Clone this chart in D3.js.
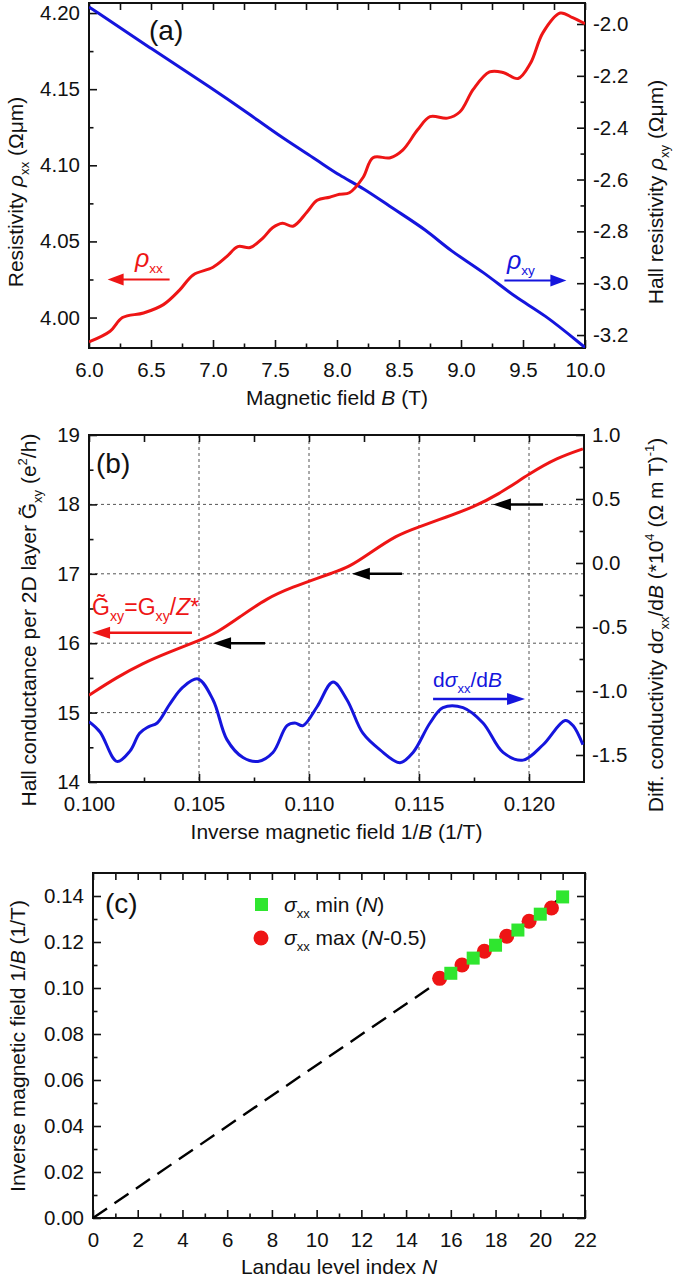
<html>
<head>
<script src="https://d3js.org/d3.v7.min.js"></script>
<style>
  body { margin: 0; background: #fff; }
  text { font-family: "Liberation Sans", Arial, sans-serif; fill: #111; }
</style>
</head>
<body>
<div id="chart"></div>
<script>
// ---------- data ----------
// (a) resistivity vs magnetic field
var aTicksX = [6.0, 6.5, 7.0, 7.5, 8.0, 8.5, 9.0, 9.5, 10.0];
var aTicksL = [4.00, 4.05, 4.10, 4.15, 4.20];
var aTicksR = [-3.2, -3.0, -2.8, -2.6, -2.4, -2.2, -2.0];
var xxB   = [6.0, 6.17, 6.27, 6.44, 6.6, 6.73, 6.84, 7.0, 7.11, 7.2, 7.3, 7.4, 7.48, 7.56, 7.645, 7.76, 7.84, 7.94, 8.02, 8.10, 8.21, 8.29, 8.43, 8.53, 8.65, 8.75, 8.89, 8.99, 9.10, 9.23, 9.34, 9.46, 9.56, 9.66, 9.80, 9.90, 10.0];
var rhoXX = [3.984, 3.991, 4.000, 4.003, 4.0085, 4.018, 4.028, 4.033, 4.040, 4.0466, 4.046, 4.052, 4.059, 4.062, 4.060, 4.0695, 4.077, 4.079, 4.081, 4.082, 4.092, 4.105, 4.105, 4.110, 4.1233, 4.132, 4.131, 4.135, 4.150, 4.1613, 4.161, 4.157, 4.167, 4.187, 4.200, 4.197, 4.193];
var xyB   = [6.0, 6.5, 7.0, 7.3, 7.56, 7.84, 8.02, 8.21, 8.45, 8.73, 8.91, 9.18, 9.45, 9.66, 10.0];
var rhoXY = [-1.934, -2.095, -2.250, -2.350, -2.440, -2.525, -2.585, -2.632, -2.712, -2.797, -2.875, -2.955, -3.060, -3.115, -3.248];

// (b) Hall conductance and d sigma / dB vs inverse field
var bTicksX = [0.100, 0.105, 0.110, 0.115, 0.120];
var bTicksL = [14, 15, 16, 17, 18, 19];
var bTicksR = [-1.5, -1.0, -0.5, 0.0, 0.5, 1.0];
var gInvB = [0.1, 0.10127, 0.10245, 0.10355, 0.10495, 0.10582, 0.10686, 0.10809, 0.10927, 0.1105, 0.11095, 0.11186, 0.11277, 0.114, 0.11495, 0.11627, 0.11745, 0.11855, 0.12005, 0.12127, 0.12245];
var gXY   = [15.25, 15.51, 15.71, 15.86, 16.03, 16.15, 16.38, 16.65, 16.81, 16.95, 17.0, 17.1, 17.3, 17.56, 17.67, 17.82, 17.96, 18.13, 18.45, 18.67, 18.8];
var dInvB = [0.1, 0.1005, 0.10127, 0.10186, 0.1023, 0.1027, 0.1031, 0.10368, 0.10427, 0.10495, 0.10564, 0.10627, 0.107, 0.10768, 0.10836, 0.109, 0.10936, 0.10973, 0.11036, 0.11109, 0.11173, 0.11245, 0.11323, 0.11414, 0.11473, 0.1155, 0.11609, 0.117, 0.11791, 0.11882, 0.11973, 0.12064, 0.12164, 0.122, 0.12245];
var dSdB  = [-1.24, -1.32, -1.55, -1.47, -1.33, -1.28, -1.25, -1.10, -0.97, -0.906, -1.07, -1.38, -1.52, -1.55, -1.48, -1.27, -1.25, -1.27, -1.125, -0.93, -1.07, -1.33, -1.46, -1.56, -1.48, -1.25, -1.13, -1.13, -1.25, -1.48, -1.54, -1.42, -1.23, -1.27, -1.42];
var bArrowsTail = [0.1080, 0.11423, 0.12064];
var bArrowsTip  = [0.10564, 0.11195, 0.11836];
var bArrowsG    = [16, 17, 18];

// (c) Landau fan
var cTicksX = [0, 2, 4, 6, 8, 10, 12, 14, 16, 18, 20, 22];
var cTicksY = [0.00, 0.02, 0.04, 0.06, 0.08, 0.10, 0.12, 0.14];
var minN    = [16, 17, 18, 19, 20, 21];
var minInvB = [0.1064, 0.1130, 0.1186, 0.1252, 0.1321, 0.1396];
var maxN    = [15.5, 16.5, 17.5, 18.5, 19.5, 20.5];
var maxInvB = [0.1042, 0.1100, 0.1160, 0.1225, 0.1290, 0.1348];
var fitN    = [0, 21];
var fitInvB = [0, 0.1396];

var RED = "#ee1515", BLUE = "#1515dd", GREEN = "#2fe62f";
var TICK_FS = 20.5, TITLE_FS = 21;

var svg = d3.select("#chart").append("svg").attr("width", 675).attr("height", 1277);

function mids(a) {
  var out = [];
  for (var i = 0; i < a.length - 1; i++) out.push((a[i] + a[i + 1]) / 2);
  return out;
}
function zip(xs, ys) { return xs.map(function (d, i) { return [d, ys[i]]; }); }

// inward major + minor ticks, labels optional
function axes(g, x, y, y2, o) {
  var box = { l: x.range()[0], r: x.range()[1], t: y.range()[1], b: y.range()[0] };
  var majX = o.tx, minX = o.mx || mids(o.tx);
  g.append("g").attr("transform", "translate(0," + box.b + ")")
    .call(d3.axisBottom(x).tickValues(majX).tickSizeInner(-8).tickSizeOuter(0).tickPadding(14).tickFormat(o.fx));
  g.append("g").attr("transform", "translate(0," + box.b + ")")
    .call(d3.axisBottom(x).tickValues(minX).tickSize(-4.5).tickFormat(""));
  g.append("g").attr("transform", "translate(0," + box.t + ")")
    .call(d3.axisTop(x).tickValues(majX.concat(minX)).tickSize(-7).tickFormat(""));
  g.append("g").attr("transform", "translate(" + box.l + ",0)")
    .call(d3.axisLeft(y).tickValues(o.ty).tickSizeInner(-8).tickSizeOuter(0).tickPadding(9).tickFormat(o.fy));
  g.append("g").attr("transform", "translate(" + box.l + ",0)")
    .call(d3.axisLeft(y).tickValues(o.my || mids(o.ty)).tickSize(-4.5).tickFormat(""));
  var ry = y2 || y;
  g.append("g").attr("transform", "translate(" + box.r + ",0)")
    .call(d3.axisRight(ry).tickValues(o.ty2 || o.ty).tickSizeInner(-8).tickSizeOuter(0).tickPadding(8).tickFormat(o.fy2 || ""));
  g.append("g").attr("transform", "translate(" + box.r + ",0)")
    .call(d3.axisRight(ry).tickValues(o.my2 || mids(o.ty2 || o.ty)).tickSize(-4.5).tickFormat(""));
  g.selectAll(".domain").remove();
  g.selectAll(".tick line").attr("stroke", "#111").attr("stroke-width", 1.6);
  g.selectAll(".tick text").attr("font-size", TICK_FS).attr("fill", "#111")
    .attr("font-family", '"Liberation Sans", Arial, sans-serif');
  g.append("rect").attr("x", box.l).attr("y", box.t)
    .attr("width", box.r - box.l).attr("height", box.b - box.t)
    .attr("fill", "none").attr("stroke", "#111").attr("stroke-width", 2);
  return box;
}

// text built of parts: {t, sub, sup, it, size}
function rich(sel, parts, size) {
  parts.forEach(function (p) {
    var ts = sel.append("tspan").text(p.t);
    if (p.sub) ts.attr("font-size", size * 0.62).attr("baseline-shift", -size * 0.28);
    else if (p.sup) ts.attr("font-size", size * 0.62).attr("baseline-shift", size * 0.42);
    else if (p.size) ts.attr("font-size", p.size);
    if (p.it) ts.attr("font-style", "italic");
  });
  return sel;
}
function vtitle(g, x, y, parts, size, color) {
  var t = g.append("text").attr("transform", "translate(" + x + "," + y + ") rotate(-90)")
    .attr("text-anchor", "middle").attr("font-size", size);
  if (color) t.style("fill", color);
  return rich(t, parts, size);
}
function htitle(g, x, y, parts, size, anchor, color) {
  var t = g.append("text").attr("x", x).attr("y", y)
    .attr("text-anchor", anchor || "middle").attr("font-size", size);
  if (color) t.style("fill", color);
  return rich(t, parts, size);
}
function arrow(g, x1, x2, y, color, w, head, hw) {
  var dir = x2 > x1 ? 1 : -1;
  g.append("line").attr("x1", x1).attr("x2", x2 - dir * head * 0.8).attr("y1", y).attr("y2", y)
    .attr("stroke", color).attr("stroke-width", w);
  g.append("path").attr("d", "M" + x2 + "," + y + "L" + (x2 - dir * head) + "," + (y - hw) +
    "L" + (x2 - dir * head) + "," + (y + hw) + "Z").attr("fill", color);
}

// ---------- panel (a) ----------
var xa = d3.scaleLinear().domain([6, 10]).range([89, 585]);
var ya = d3.scaleLinear().domain([3.980, 4.2066]).range([348, 3]);
var ya2 = d3.scaleLinear().domain([-3.25, -1.919]).range([348, 3]);
var ga = svg.append("g");
svg.append("clipPath").attr("id", "clipA").append("rect").attr("x", 89).attr("y", 3).attr("width", 496).attr("height", 345);
var boxA = axes(ga, xa, ya, ya2, {
  tx: aTicksX, fx: function (d) { return d.toFixed(1); },
  ty: aTicksL, fy: function (d) { return d.toFixed(2); },
  my: mids(aTicksL),
  ty2: aTicksR, fy2: function (d) { return d.toFixed(1); },
  my2: [-3.1, -2.9, -2.7, -2.5, -2.3, -2.1]
});
var lineA = d3.line().x(function (d) { return xa(d[0]); }).y(function (d) { return ya(d[1]); }).curve(d3.curveCatmullRom.alpha(0.5));
var lineA2 = d3.line().x(function (d) { return xa(d[0]); }).y(function (d) { return ya2(d[1]); }).curve(d3.curveBasis);
ga.append("path").attr("d", lineA2(zip(xyB, rhoXY))).attr("clip-path", "url(#clipA)")
  .attr("fill", "none").attr("stroke", BLUE).attr("stroke-width", 3);
ga.append("path").attr("d", lineA(zip(xxB, rhoXX))).attr("clip-path", "url(#clipA)")
  .attr("fill", "none").attr("stroke", RED).attr("stroke-width", 3);
arrow(ga, xa(6.65), xa(6.15), ya(4.025), RED, 2, 16, 6);
arrow(ga, xa(9.35), xa(9.85), ya2(-2.99), BLUE, 2, 16, 6);
htitle(ga, xa(6.37), ya(4.025) - 12, [{ t: "ρ", it: true, size: 25 }, { t: "xx", sub: true }], 22, "start", RED);
htitle(ga, xa(9.37), ya2(-2.99) - 12, [{ t: "ρ", it: true, size: 25 }, { t: "xy", sub: true }], 22, "start", BLUE);
htitle(ga, 149, 40, [{ t: "(a)" }], 28, "start");
htitle(ga, (boxA.l + boxA.r) / 2, 405, [{ t: "Magnetic field " }, { t: "B", it: true }, { t: " (T)" }], TITLE_FS);
vtitle(ga, 23, 192, [{ t: "Resistivity " }, { t: "ρ", it: true }, { t: "xx", sub: true }, { t: " (Ωμm)" }], TITLE_FS);
vtitle(ga, 663, 192, [{ t: "Hall resistivity " }, { t: "ρ", it: true }, { t: "xy", sub: true }, { t: " (Ωμm)" }], TITLE_FS);

// ---------- panel (b) ----------
var xb = d3.scaleLinear().domain([0.1, 0.1225]).range([89, 584]);
var yb = d3.scaleLinear().domain([14, 19]).range([782, 435]);
var yb2 = d3.scaleLinear().domain([-1.711, 1.0]).range([782, 435]);
var gb = svg.append("g");
svg.append("clipPath").attr("id", "clipB").append("rect").attr("x", 89).attr("y", 435).attr("width", 495).attr("height", 347);
// dashed grid
gb.selectAll("line.gx").data(bTicksX.slice(1)).enter().append("line")
  .attr("x1", function (d) { return xb(d); }).attr("x2", function (d) { return xb(d); })
  .attr("y1", 435).attr("y2", 782).attr("stroke", "#555").attr("stroke-width", 1).attr("stroke-dasharray", "3,3");
gb.selectAll("line.gy").data(bTicksL.slice(1, -1)).enter().append("line")
  .attr("y1", function (d) { return yb(d); }).attr("y2", function (d) { return yb(d); })
  .attr("x1", 89).attr("x2", 584).attr("stroke", "#555").attr("stroke-width", 1).attr("stroke-dasharray", "3,3");
var boxB = axes(gb, xb, yb, yb2, {
  tx: bTicksX, fx: function (d) { return d.toFixed(3); },
  mx: [0.1025, 0.1075, 0.1125, 0.1175, 0.1225].filter(function (d) { return d < 0.1225; }),
  ty: bTicksL, fy: function (d) { return d; },
  ty2: bTicksR, fy2: function (d) { return d.toFixed(1); },
  my2: [-1.25, -0.75, -0.25, 0.25, 0.75]
});
var lineB = d3.line().x(function (d) { return xb(d[0]); }).y(function (d) { return yb(d[1]); }).curve(d3.curveBasis);
var lineB2 = d3.line().x(function (d) { return xb(d[0]); }).y(function (d) { return yb2(d[1]); }).curve(d3.curveCatmullRom.alpha(0.5));
gb.append("path").attr("d", lineB2(zip(dInvB, dSdB))).attr("clip-path", "url(#clipB)")
  .attr("fill", "none").attr("stroke", BLUE).attr("stroke-width", 3);
gb.append("path").attr("d", lineB(zip(gInvB, gXY))).attr("clip-path", "url(#clipB)")
  .attr("fill", "none").attr("stroke", RED).attr("stroke-width", 3);
bArrowsG.forEach(function (g, i) {
  arrow(gb, xb(bArrowsTail[i]), xb(bArrowsTip[i]), yb(g), "#000", 2.5, 18, 6);
});
arrow(gb, xb(0.10468), xb(0.10014), yb(16.15), RED, 2.5, 18, 6);
arrow(gb, xb(0.11564), xb(0.11982), yb2(-1.0625), BLUE, 2.5, 18, 6);
htitle(gb, xb(0.10014), yb(16.41), [{ t: "G\u0303" }, { t: "xy", sub: true }, { t: "=G" }, { t: "xy", sub: true }, { t: "/" }, { t: "Z", it: true }, { t: "*" }], 23, "start", RED);
htitle(gb, xb(0.11564), yb2(-0.97), [{ t: "d" }, { t: "σ", it: true }, { t: "xx", sub: true }, { t: "/d" }, { t: "B", it: true }], 21, "start", BLUE);
htitle(gb, 96, 473, [{ t: "(b)" }], 28, "start");
htitle(gb, (boxB.l + boxB.r) / 2, 839, [{ t: "Inverse magnetic field 1/" }, { t: "B", it: true }, { t: " (1/T)" }], TITLE_FS);
vtitle(gb, 36, 620, [{ t: "Hall conductance per 2D layer G\u0303" }, { t: "xy", sub: true }, { t: " (e" }, { t: "2", sup: true }, { t: "/h)" }], TITLE_FS);
vtitle(gb, 663, 625, [{ t: "Diff. conductivity d" }, { t: "σ", it: true }, { t: "xx", sub: true }, { t: "/d" }, { t: "B", it: true },
  { t: " (*10" }, { t: "4", sup: true }, { t: " (Ω m T)" }, { t: "-1", sup: true }, { t: ")" }], TITLE_FS);

// ---------- panel (c) ----------
var xc = d3.scaleLinear().domain([0, 22]).range([93, 585]);
var yc = d3.scaleLinear().domain([0, 0.15]).range([1218, 873]);
var gc = svg.append("g");
var boxC = axes(gc, xc, yc, null, {
  tx: cTicksX, fx: function (d) { return d; },
  ty: cTicksY, fy: function (d) { return d.toFixed(2); },
  my: mids(cTicksY),
  my2: mids(cTicksY)
});
gc.append("path").attr("d", d3.line().x(function (d) { return xc(d[0]); }).y(function (d) { return yc(d[1]); })(zip(fitN, fitInvB)))
  .attr("fill", "none").attr("stroke", "#000").attr("stroke-width", 2.4).attr("stroke-dasharray", "17,9");
gc.selectAll("circle.mx").data(zip(maxN, maxInvB)).enter().append("circle")
  .attr("cx", function (d) { return xc(d[0]); }).attr("cy", function (d) { return yc(d[1]); })
  .attr("r", 7.5).attr("fill", RED);
gc.selectAll("rect.mn").data(zip(minN, minInvB)).enter().append("rect")
  .attr("x", function (d) { return xc(d[0]) - 6.5; }).attr("y", function (d) { return yc(d[1]) - 6.5; })
  .attr("width", 13).attr("height", 13).attr("fill", GREEN);
// legend
gc.append("rect").attr("x", 255).attr("y", 898).attr("width", 13).attr("height", 13).attr("fill", GREEN);
gc.append("circle").attr("cx", 261).attr("cy", 938).attr("r", 7.5).attr("fill", RED);
htitle(gc, 284, 912, [{ t: "σ", it: true }, { t: "xx", sub: true }, { t: " min (" }, { t: "N", it: true }, { t: ")" }], TITLE_FS, "start");
htitle(gc, 284, 945, [{ t: "σ", it: true }, { t: "xx", sub: true }, { t: " max (" }, { t: "N", it: true }, { t: "-0.5)" }], TITLE_FS, "start");
htitle(gc, 105, 913, [{ t: "(c)" }], 28, "start");
htitle(gc, (boxC.l + boxC.r) / 2, 1274, [{ t: "Landau level index " }, { t: "N", it: true }], TITLE_FS);
vtitle(gc, 25, 1046, [{ t: "Inverse magnetic field 1/" }, { t: "B", it: true }, { t: " (1/T)" }], TITLE_FS);
</script>
</body>
</html>
